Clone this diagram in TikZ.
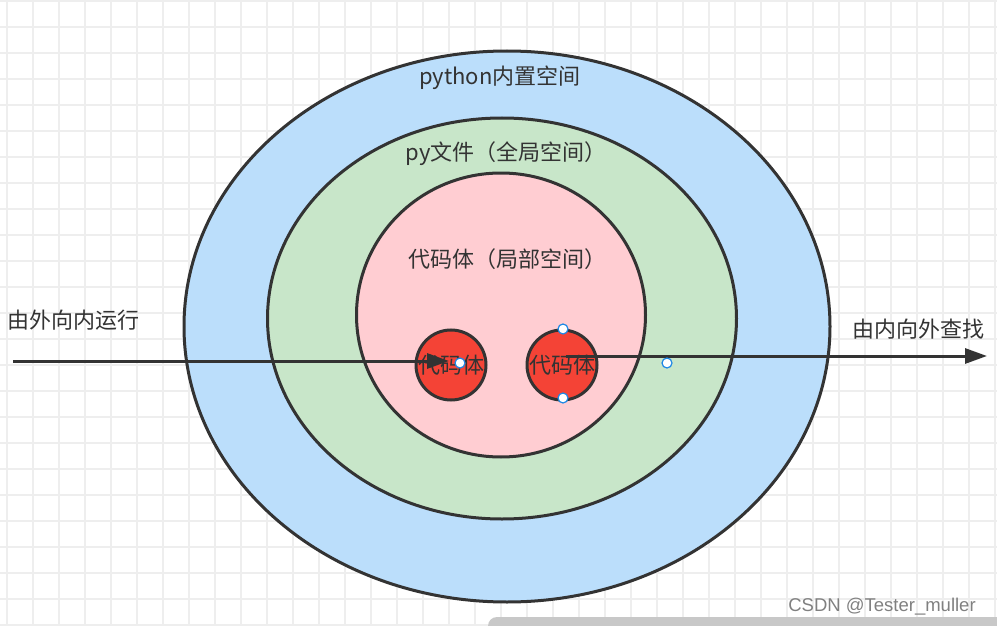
\documentclass[tikz,border=0pt]{standalone}
\usepackage{fontspec}
\setmainfont{Noto Sans CJK SC}
\newfontfamily\markfont{Liberation Sans}
\usepackage{xcolor}
\usetikzlibrary{shapes.geometric, arrows.meta}
\definecolor{ink}{HTML}{333333}
\definecolor{builtinblue}{HTML}{BBDEFB}
\definecolor{globalgreen}{HTML}{C8E6C9}
\definecolor{localpink}{HTML}{FFCDD2}
\definecolor{codered}{HTML}{F44336}
\definecolor{handleblue}{HTML}{1E88E5}
\definecolor{gridgray}{HTML}{EEEEEE}
\definecolor{barGray}{HTML}{C8C8C8}
\begin{document}
\begin{tikzpicture}[
    x=1pt, y=-1pt,
    zone/.style={draw=ink, ellipse, line width=3pt, inner sep=0pt},
    body/.style={draw=ink, circle, line width=3pt, fill=codered, inner sep=0pt, minimum size=70pt, text=ink, font=\fontsize{22}{26}\selectfont},
    tag/.style={text=ink, font=\fontsize{22}{26}\selectfont, inner sep=0pt},
    arrow/.style={-{Triangle[length=22pt, width=15pt]}, line width=3pt, draw=ink},
    handle/.style={circle, draw=handleblue, fill=white, line width=1.2pt, inner sep=0pt, minimum size=10pt},
    gridline/.style={draw=gridgray, line width=1.6pt}
]
\useasboundingbox (0,0) rectangle (997,626);
% Background grid
\foreach \k in {0,...,38} {
  \draw[gridline] (7+26*\k,0) -- (7+26*\k,626);
}
\foreach \k in {0,...,24} {
  \draw[gridline] (0,1+26*\k) -- (997,1+26*\k);
}

% Namespaces
\node[zone, fill=builtinblue, minimum width=646pt, minimum height=551pt] (builtin) at (507,326.5) {};
\node[zone, fill=globalgreen, minimum width=469pt, minimum height=401pt] (global) at (502,318.5) {};
\node[zone, fill=localpink, minimum width=289pt, minimum height=284pt] (local) at (501,315) {};
\node[body] (innerA) at (451,365) {代码体};
\node[body] (innerB) at (562,365) {代码体};

\node[tag] (builtinTxt) at (500,78) {python内置空间};
\node[tag] (globalTxt) at (506,154) {py文件（全局空间）};
\node[tag] (localTxt) at (507,259) {代码体（局部空间）};

% Run and lookup
\node[tag] (runTxt) at (74,320) {由外向内运行};
\node[tag] (findTxt) at (918,329) {由内向外查找};
\coordinate (runStart) at (13,361);
\coordinate (runTip) at (449,361);
\coordinate (findStart) at (566,356);
\coordinate (findTip) at (987,356);
\draw[arrow] (runStart) -- (runTip);
\draw[arrow] (findStart) -- (findTip);

% Editor handles
\node[handle] (hTop) at (563,329) {};
\node[handle] (hBottom) at (563,398) {};
\node[handle] (hLeft) at (460,363) {};
\node[handle] (hRight) at (667,363) {};

% Watermark and bar
\node[text=black!50, font=\markfont\fontsize{18.5}{22}\selectfont, inner sep=0pt] (mark) at (882,607) {CSDN @Tester\_muller};
\fill[barGray, rounded corners=9pt] (488,617) rectangle (1010,640);
\end{tikzpicture}
\end{document}
